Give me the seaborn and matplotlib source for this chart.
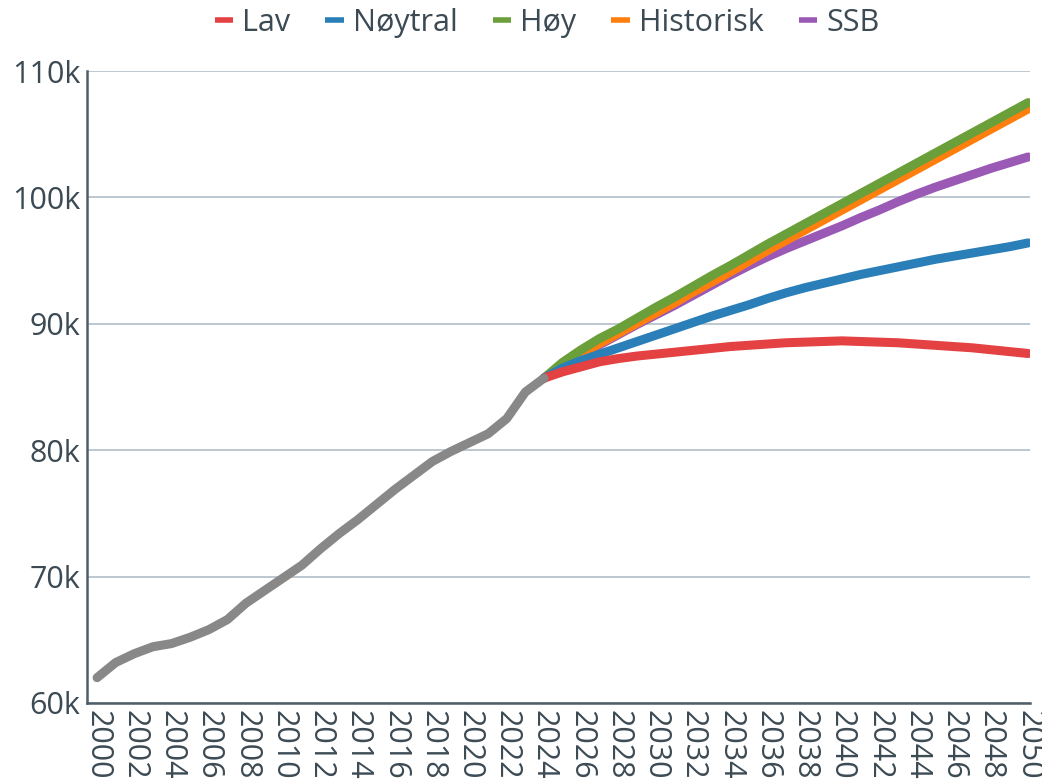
"""
Recreate the population projection chart (historical + five scenarios).
"""

import matplotlib
matplotlib.use("Agg")
import matplotlib.pyplot as plt
import seaborn as sns
import pandas as pd
from matplotlib.ticker import FuncFormatter

# --- data (values in thousands) ---
hist_years = list(range(2000, 2025))
hist_values = [62.0, 63.2, 63.9, 64.45, 64.7, 65.2, 65.8, 66.6, 67.9, 68.9,
               69.9, 70.9, 72.2, 73.4, 74.5, 75.7, 76.9, 78.0, 79.1, 79.9,
               80.6, 81.3, 82.5, 84.6, 85.7]

proj_years = list(range(2024, 2051))
lav = [85.7, 86.2, 86.6, 87.0, 87.25, 87.45, 87.6, 87.75, 87.9, 88.05,
       88.2, 88.3, 88.4, 88.5, 88.55, 88.6, 88.65, 88.6, 88.55, 88.5,
       88.4, 88.3, 88.2, 88.1, 87.95, 87.8, 87.65]
noytral = [85.7, 86.5, 87.1, 87.6, 88.1, 88.6, 89.1, 89.6, 90.1, 90.6,
           91.05, 91.5, 92.0, 92.45, 92.85, 93.2, 93.55, 93.9, 94.2, 94.5,
           94.8, 95.1, 95.35, 95.6, 95.85, 96.1, 96.4]
hoy = [85.7, 86.95, 87.95, 88.85, 89.6, 90.45, 91.3, 92.1, 92.95, 93.8,
       94.6, 95.45, 96.3, 97.1, 97.9, 98.7, 99.5, 100.3, 101.1, 101.9,
       102.7, 103.5, 104.3, 105.1, 105.9, 106.7, 107.5]
historisk = [85.7, 86.7, 87.65, 88.45, 89.25, 90.05, 90.85, 91.65, 92.5, 93.3,
             94.1, 94.95, 95.8, 96.6, 97.4, 98.2, 99.0, 99.8, 100.6, 101.4,
             102.2, 103.0, 103.8, 104.6, 105.4, 106.2, 107.0]
ssb = [85.7, 86.65, 87.55, 88.35, 89.15, 89.95, 90.7, 91.45, 92.25, 93.05,
       93.85, 94.6, 95.3, 95.95, 96.55, 97.15, 97.75, 98.4, 99.0, 99.65,
       100.25, 100.8, 101.3, 101.8, 102.3, 102.75, 103.2]

series_names = ["Lav", "Nøytral", "Høy", "Historisk", "SSB"]
series_values = [lav, noytral, hoy, historisk, ssb]
series_colors = ["#e44142", "#2a7fb8", "#6b9f3a", "#ff7f0e", "#9b59b6"]
series_zorder = [6, 5, 4, 3, 2]

x_ticks = list(range(2000, 2051, 2))
y_ticks = [60, 70, 80, 90, 100, 110]

TEXT = "#3c4a54"

sns.set_style("white")
plt.rcParams["font.family"] = ["Open Sans", "DejaVu Sans"]

fig = plt.figure(figsize=(10.42, 7.83), dpi=100)
ax = fig.add_axes([0.0835, 0.1022, 0.905, 0.8071])

for name, vals, col, z in zip(series_names, series_values, series_colors, series_zorder):
    df = pd.DataFrame({"year": proj_years, "value": vals})
    sns.lineplot(data=df, x="year", y="value", ax=ax, color=col, lw=6.5,
                 label=name, zorder=z, solid_capstyle="round")

hist_df = pd.DataFrame({"year": hist_years, "value": hist_values})
sns.lineplot(data=hist_df, x="year", y="value", ax=ax, color="#888888", lw=6.5,
             zorder=7, solid_capstyle="round", solid_joinstyle="round", legend=False)

ax.set_xlim(1999.46, 2050.1)
ax.set_ylim(60, 110)
ax.set_xticks(x_ticks)
ax.set_xticklabels([str(y) for y in x_ticks], rotation=-90, ha="center", va="top")
ax.set_yticks(y_ticks)
ax.yaxis.set_major_formatter(FuncFormatter(lambda v, p: f"{v:.0f}k"))
ax.tick_params(axis="both", labelsize=22, colors=TEXT, length=0, pad=5)
ax.set_xlabel("")
ax.set_ylabel("")

ax.grid(axis="y", color="#b7c3cb", lw=1.3)
ax.grid(axis="x", visible=False)
ax.set_axisbelow(True)
for s in ["top", "right"]:
    ax.spines[s].set_visible(False)
for s in ["left", "bottom"]:
    ax.spines[s].set_color("#4f5e68")
    ax.spines[s].set_linewidth(1.8)

ax.get_legend().remove()
handles, labels = ax.get_legend_handles_labels()
leg = fig.legend(handles, labels, loc="upper center", bbox_to_anchor=(0.525, 1.025),
                 ncol=5, frameon=False, fontsize=22, handlelength=0.6,
                 handletextpad=0.3, columnspacing=1.15, labelcolor=TEXT)
for line in leg.get_lines():
    line.set_linewidth(4)
    line.set_solid_capstyle("butt")

fig.savefig("out.png", dpi=100)
